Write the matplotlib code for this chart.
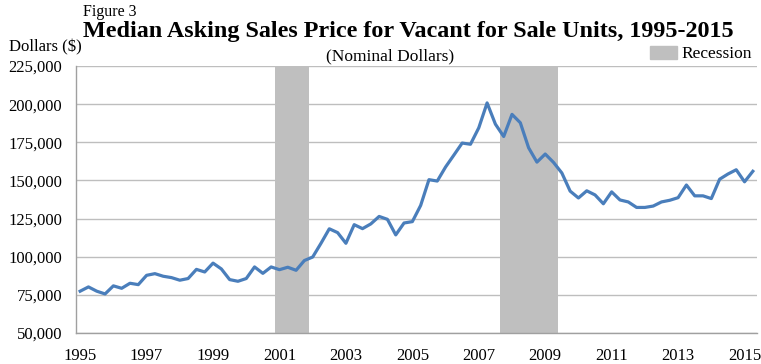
import matplotlib
matplotlib.use("Agg")
import matplotlib.pyplot as plt
from matplotlib.patches import Patch
import numpy as np

# Quarterly data 1995Q1 - 2015Q2
years = list(range(1995, 2016))
prices = [
    77400, 80200, 77400, 75600, 80900, 79300, 82600, 81700,
    87800, 88900, 87200, 86300, 84600, 85700, 91700, 90000,
    95800, 92000, 85000, 83900, 85700, 93300, 89100, 93300,
    91500, 93100, 91100, 97500, 99800, 108800, 118300, 115800,
    108800, 121000, 118400, 121500, 126400, 124500, 114300, 122100,
    123000, 133600, 150500, 149600, 158800, 166600, 174500, 173700,
    184500, 200800, 186900, 178800, 193300, 187800, 171400, 162000,
    167300, 161800, 154900, 143000, 138500, 143200, 140500, 134700,
    142500, 137200, 135900, 132300, 132300, 133200, 135900, 137000,
    138700, 147000, 139900, 139900, 138100, 150800, 154200, 157000,
    149100, 156000,
]
# recession periods as (first quarter index, last quarter index)
recessions = [(24, 27), (51, 57)]
tick_years = years[::2]
y_ticks = [50000, 75000, 100000, 125000, 150000, 175000, 200000, 225000]

plt.rcParams['font.family'] = ['Liberation Serif', 'DejaVu Serif']

fig = plt.figure(figsize=(7.61, 3.64), dpi=100)
ax = fig.add_axes([76/761, 1-333/364, (757-76)/761, (333-66)/364])

x = np.arange(len(prices))
for a, b in recessions:
    ax.axvspan(a - 0.5, b + 0.5, color='#BFBFBF', lw=0, zorder=1)
ax.plot(x, prices, color='#4A7EBB', lw=2.3, zorder=3, solid_joinstyle='round')

ax.set_xlim(-0.5, len(prices) - 0.5)
ax.set_ylim(50000, 225000)
ax.set_yticks(y_ticks)
ax.set_yticklabels([f"{v:,}" for v in y_ticks], fontsize=12)
ax.set_xticks([(y - 1995) * 4 for y in tick_years])
ax.set_xticklabels([str(y) for y in tick_years], fontsize=12)
ax.yaxis.grid(True, color='#BEBEBE', lw=1.0, zorder=0)
ax.set_axisbelow(True)
for s in ['top', 'right']:
    ax.spines[s].set_visible(False)
for s in ['left', 'bottom']:
    ax.spines[s].set_color('#A0A0A0')
    ax.spines[s].set_linewidth(1.0)
ax.tick_params(axis='y', length=0, pad=10)
ax.tick_params(axis='x', length=0, pad=11)

fig.text(83/761, 1-12/364, "Figure 3", fontsize=11.5, va='center', ha='left')
fig.text(408/761, 1-32/364, "Median Asking Sales Price for Vacant for Sale Units, 1995-2015",
         fontsize=17.4, fontweight='bold', va='center', ha='center')
fig.text(9/761, 1-47/364, "Dollars ($)", fontsize=12, va='center', ha='left')
fig.text(390/761, 1-56/364, "(Nominal Dollars)", fontsize=12.5, va='center', ha='center')

leg = fig.legend(handles=[Patch(color='#BFBFBF', label='Recession')],
                 loc='center right', bbox_to_anchor=(752/761, 1-54/364),
                 frameon=False, fontsize=12.5, handlelength=1.55, handleheight=0.75,
                 handletextpad=0.25, borderpad=0, borderaxespad=0)

fig.savefig("out.png", dpi=100)
